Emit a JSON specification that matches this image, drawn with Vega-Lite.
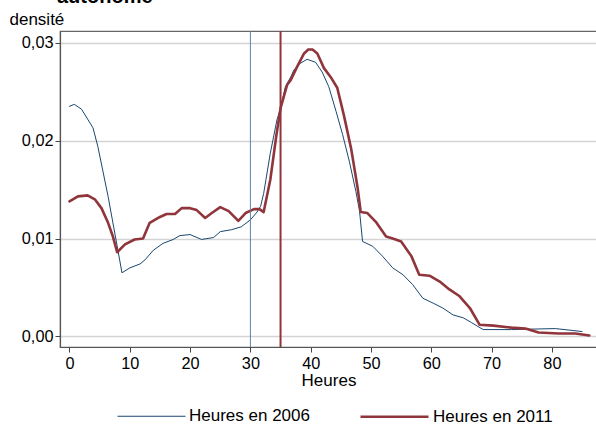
{
  "$schema": "https://vega.github.io/schema/vega-lite/v6.json",
  "width": 537,
  "height": 316,
  "autosize": "none",
  "padding": {"left": 60, "top": 31, "right": 0, "bottom": 78},
  "background": "white",
  "title": {"text": "autonome", "anchor": "start", "frame": "group", "fontSize": 20, "fontWeight": "bold", "font": "Liberation Sans", "color": "black", "offset": 0, "dx": -3, "dy": 12.5, "baseline": "alphabetic"},
  "config": {
    "view": {"stroke": "#666666", "strokeWidth": 1.2},
    "font": "Liberation Sans",
    "axis": {"labelFont": "Liberation Sans", "titleFont": "Liberation Sans", "labelFontSize": 16.3, "titleFontSize": 17, "titleFontWeight": "normal", "labelColor": "black", "titleColor": "black", "tickColor": "#444444", "domainColor": "#555555", "tickSize": 5}
  },
  "layer": [
    {
      "data": {"values": [
        {"h": 0.0, "v": 0.0235, "serie": "Heures en 2006"},
        {"h": 0.8, "v": 0.0237, "serie": "Heures en 2006"},
        {"h": 2.0, "v": 0.0232, "serie": "Heures en 2006"},
        {"h": 3.0, "v": 0.0222, "serie": "Heures en 2006"},
        {"h": 3.9, "v": 0.0213, "serie": "Heures en 2006"},
        {"h": 4.7, "v": 0.0194, "serie": "Heures en 2006"},
        {"h": 5.5, "v": 0.0170, "serie": "Heures en 2006"},
        {"h": 6.4, "v": 0.0143, "serie": "Heures en 2006"},
        {"h": 7.2, "v": 0.0116, "serie": "Heures en 2006"},
        {"h": 8.0, "v": 0.0089, "serie": "Heures en 2006"},
        {"h": 8.7, "v": 0.0065, "serie": "Heures en 2006"},
        {"h": 10.0, "v": 0.0070, "serie": "Heures en 2006"},
        {"h": 11.7, "v": 0.0074, "serie": "Heures en 2006"},
        {"h": 12.5, "v": 0.0078, "serie": "Heures en 2006"},
        {"h": 13.9, "v": 0.0088, "serie": "Heures en 2006"},
        {"h": 15.5, "v": 0.0095, "serie": "Heures en 2006"},
        {"h": 17.2, "v": 0.0099, "serie": "Heures en 2006"},
        {"h": 18.3, "v": 0.0103, "serie": "Heures en 2006"},
        {"h": 20.0, "v": 0.0104, "serie": "Heures en 2006"},
        {"h": 21.9, "v": 0.0099, "serie": "Heures en 2006"},
        {"h": 23.9, "v": 0.0101, "serie": "Heures en 2006"},
        {"h": 25.0, "v": 0.0107, "serie": "Heures en 2006"},
        {"h": 26.9, "v": 0.0109, "serie": "Heures en 2006"},
        {"h": 28.5, "v": 0.0112, "serie": "Heures en 2006"},
        {"h": 30.0, "v": 0.0119, "serie": "Heures en 2006"},
        {"h": 31.1, "v": 0.0127, "serie": "Heures en 2006"},
        {"h": 31.7, "v": 0.0133, "serie": "Heures en 2006"},
        {"h": 32.2, "v": 0.0146, "serie": "Heures en 2006"},
        {"h": 33.3, "v": 0.0187, "serie": "Heures en 2006"},
        {"h": 34.4, "v": 0.0221, "serie": "Heures en 2006"},
        {"h": 35.0, "v": 0.0233, "serie": "Heures en 2006"},
        {"h": 35.8, "v": 0.0255, "serie": "Heures en 2006"},
        {"h": 36.7, "v": 0.0265, "serie": "Heures en 2006"},
        {"h": 37.2, "v": 0.0272, "serie": "Heures en 2006"},
        {"h": 38.3, "v": 0.0279, "serie": "Heures en 2006"},
        {"h": 39.4, "v": 0.0283, "serie": "Heures en 2006"},
        {"h": 40.8, "v": 0.0280, "serie": "Heures en 2006"},
        {"h": 41.9, "v": 0.0270, "serie": "Heures en 2006"},
        {"h": 43.0, "v": 0.0255, "serie": "Heures en 2006"},
        {"h": 44.2, "v": 0.0230, "serie": "Heures en 2006"},
        {"h": 45.3, "v": 0.0206, "serie": "Heures en 2006"},
        {"h": 46.4, "v": 0.0179, "serie": "Heures en 2006"},
        {"h": 47.5, "v": 0.0148, "serie": "Heures en 2006"},
        {"h": 48.1, "v": 0.0128, "serie": "Heures en 2006"},
        {"h": 48.6, "v": 0.0097, "serie": "Heures en 2006"},
        {"h": 50.3, "v": 0.0092, "serie": "Heures en 2006"},
        {"h": 51.9, "v": 0.0082, "serie": "Heures en 2006"},
        {"h": 53.6, "v": 0.0070, "serie": "Heures en 2006"},
        {"h": 55.3, "v": 0.0063, "serie": "Heures en 2006"},
        {"h": 56.9, "v": 0.0053, "serie": "Heures en 2006"},
        {"h": 58.6, "v": 0.0039, "serie": "Heures en 2006"},
        {"h": 60.3, "v": 0.0034, "serie": "Heures en 2006"},
        {"h": 61.9, "v": 0.0029, "serie": "Heures en 2006"},
        {"h": 63.6, "v": 0.0022, "serie": "Heures en 2006"},
        {"h": 65.3, "v": 0.0019, "serie": "Heures en 2006"},
        {"h": 66.7, "v": 0.0014, "serie": "Heures en 2006"},
        {"h": 68.6, "v": 0.0007, "serie": "Heures en 2006"},
        {"h": 73.3, "v": 0.0007, "serie": "Heures en 2006"},
        {"h": 80.6, "v": 0.0008, "serie": "Heures en 2006"},
        {"h": 85.0, "v": 0.0005, "serie": "Heures en 2006"},
        {"h": 0.0, "v": 0.0138, "serie": "Heures en 2011"},
        {"h": 1.4, "v": 0.0143, "serie": "Heures en 2011"},
        {"h": 3.0, "v": 0.0144, "serie": "Heures en 2011"},
        {"h": 4.2, "v": 0.0140, "serie": "Heures en 2011"},
        {"h": 5.3, "v": 0.0131, "serie": "Heures en 2011"},
        {"h": 6.4, "v": 0.0116, "serie": "Heures en 2011"},
        {"h": 7.2, "v": 0.0102, "serie": "Heures en 2011"},
        {"h": 7.9, "v": 0.0086, "serie": "Heures en 2011"},
        {"h": 9.2, "v": 0.0094, "serie": "Heures en 2011"},
        {"h": 10.8, "v": 0.0099, "serie": "Heures en 2011"},
        {"h": 12.2, "v": 0.0100, "serie": "Heures en 2011"},
        {"h": 13.3, "v": 0.0116, "serie": "Heures en 2011"},
        {"h": 15.0, "v": 0.0122, "serie": "Heures en 2011"},
        {"h": 16.1, "v": 0.0125, "serie": "Heures en 2011"},
        {"h": 17.5, "v": 0.0125, "serie": "Heures en 2011"},
        {"h": 18.6, "v": 0.0131, "serie": "Heures en 2011"},
        {"h": 20.0, "v": 0.0131, "serie": "Heures en 2011"},
        {"h": 21.1, "v": 0.0129, "serie": "Heures en 2011"},
        {"h": 22.5, "v": 0.0121, "serie": "Heures en 2011"},
        {"h": 23.6, "v": 0.0126, "serie": "Heures en 2011"},
        {"h": 25.0, "v": 0.0132, "serie": "Heures en 2011"},
        {"h": 26.4, "v": 0.0128, "serie": "Heures en 2011"},
        {"h": 28.0, "v": 0.0118, "serie": "Heures en 2011"},
        {"h": 29.2, "v": 0.0126, "serie": "Heures en 2011"},
        {"h": 30.6, "v": 0.0130, "serie": "Heures en 2011"},
        {"h": 31.5, "v": 0.0130, "serie": "Heures en 2011"},
        {"h": 32.2, "v": 0.0127, "serie": "Heures en 2011"},
        {"h": 33.3, "v": 0.0160, "serie": "Heures en 2011"},
        {"h": 34.3, "v": 0.0205, "serie": "Heures en 2011"},
        {"h": 35.0, "v": 0.0233, "serie": "Heures en 2011"},
        {"h": 36.1, "v": 0.0257, "serie": "Heures en 2011"},
        {"h": 36.7, "v": 0.0262, "serie": "Heures en 2011"},
        {"h": 37.8, "v": 0.0276, "serie": "Heures en 2011"},
        {"h": 38.9, "v": 0.0289, "serie": "Heures en 2011"},
        {"h": 39.6, "v": 0.0293, "serie": "Heures en 2011"},
        {"h": 40.3, "v": 0.0293, "serie": "Heures en 2011"},
        {"h": 41.1, "v": 0.0289, "serie": "Heures en 2011"},
        {"h": 42.2, "v": 0.0274, "serie": "Heures en 2011"},
        {"h": 43.3, "v": 0.0265, "serie": "Heures en 2011"},
        {"h": 44.4, "v": 0.0254, "serie": "Heures en 2011"},
        {"h": 45.5, "v": 0.0226, "serie": "Heures en 2011"},
        {"h": 46.7, "v": 0.0192, "serie": "Heures en 2011"},
        {"h": 47.8, "v": 0.0151, "serie": "Heures en 2011"},
        {"h": 48.3, "v": 0.0127, "serie": "Heures en 2011"},
        {"h": 49.4, "v": 0.0126, "serie": "Heures en 2011"},
        {"h": 50.8, "v": 0.0117, "serie": "Heures en 2011"},
        {"h": 52.5, "v": 0.0102, "serie": "Heures en 2011"},
        {"h": 53.6, "v": 0.0100, "serie": "Heures en 2011"},
        {"h": 55.0, "v": 0.0097, "serie": "Heures en 2011"},
        {"h": 56.7, "v": 0.0082, "serie": "Heures en 2011"},
        {"h": 58.0, "v": 0.0063, "serie": "Heures en 2011"},
        {"h": 59.7, "v": 0.0062, "serie": "Heures en 2011"},
        {"h": 61.4, "v": 0.0056, "serie": "Heures en 2011"},
        {"h": 63.0, "v": 0.0048, "serie": "Heures en 2011"},
        {"h": 64.7, "v": 0.0041, "serie": "Heures en 2011"},
        {"h": 66.4, "v": 0.0029, "serie": "Heures en 2011"},
        {"h": 68.0, "v": 0.0012, "serie": "Heures en 2011"},
        {"h": 70.3, "v": 0.0011, "serie": "Heures en 2011"},
        {"h": 73.3, "v": 0.0009, "serie": "Heures en 2011"},
        {"h": 75.6, "v": 0.0008, "serie": "Heures en 2011"},
        {"h": 77.8, "v": 0.0004, "serie": "Heures en 2011"},
        {"h": 81.1, "v": 0.0003, "serie": "Heures en 2011"},
        {"h": 83.9, "v": 0.0003, "serie": "Heures en 2011"},
        {"h": 86.2, "v": 0.0001, "serie": "Heures en 2011"}
      ]},
      "mark": {"type": "line", "strokeJoin": "round", "strokeCap": "round"},
      "encoding": {
        "x": {"field": "h", "type": "quantitative", "scale": {"domain": [-1.575, 87.48], "nice": false, "zero": false},
          "axis": {"values": [0, 10, 20, 30, 40, 50, 60, 70, 80], "grid": false, "title": "Heures", "labelPadding": 3, "titlePadding": 1, "domainWidth": 1.2}},
        "y": {"field": "v", "type": "quantitative", "scale": {"domain": [-0.00108, 0.03119], "nice": false, "zero": false},
          "axis": {"values": [0, 0.01, 0.02, 0.03], "labelExpr": "replace(format(datum.value, '.2f'), '.', ',')", "grid": true, "gridColor": "#d4d4d4", "gridWidth": 1.5, "labelPadding": 2, "domainWidth": 1.2,
            "title": "densité", "titleAngle": 0, "titleAlign": "left", "titleBaseline": "alphabetic", "titleX": -51, "titleY": -7}},
        "color": {"field": "serie", "type": "nominal", "scale": {"domain": ["Heures en 2006", "Heures en 2011"], "range": ["#1a476f", "#90353b"]},
          "legend": {"title": null, "orient": "none", "legendX": 57, "legendY": 350, "direction": "horizontal", "symbolType": "stroke", "symbolSize": 4624, "labelFontSize": 17, "labelFont": "Liberation Sans", "labelColor": "black", "labelOffset": 3, "columnPadding": 45, "padding": 0}},
        "strokeWidth": {"field": "serie", "type": "nominal", "scale": {"domain": ["Heures en 2006", "Heures en 2011"], "range": [1, 2.6]}, "legend": null}
      }
    },
    {
      "data": {"values": [{"h": 30}]},
      "mark": {"type": "rule", "color": "#5f82a8", "strokeWidth": 1},
      "encoding": {"x": {"field": "h", "type": "quantitative"}}
    },
    {
      "data": {"values": [{"h": 35}]},
      "mark": {"type": "rule", "color": "#90353b", "strokeWidth": 2},
      "encoding": {"x": {"field": "h", "type": "quantitative"}}
    }
  ]
}
